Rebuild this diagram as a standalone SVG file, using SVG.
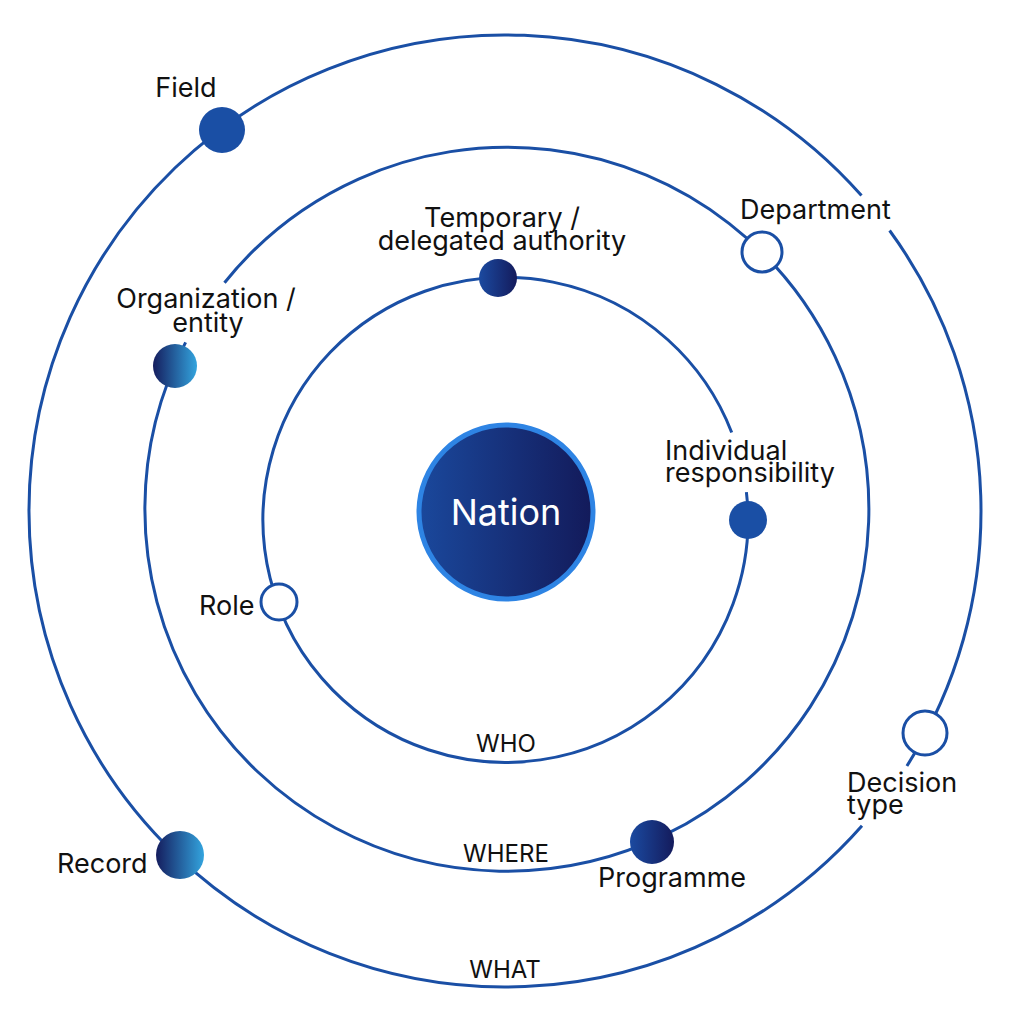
<svg xmlns="http://www.w3.org/2000/svg" width="1024" height="1024" viewBox="0 0 1024 1024">
<defs>
<linearGradient id="gBlueDark" x1="0" y1="0" x2="1" y2="0">
<stop offset="0" stop-color="#1b4aa0"/>
<stop offset="1" stop-color="#141b5c"/>
</linearGradient>
<linearGradient id="gDarkLight" x1="0" y1="0" x2="1" y2="0">
<stop offset="0" stop-color="#151d5e"/>
<stop offset="1" stop-color="#33a4de"/>
</linearGradient>
<linearGradient id="gNation" x1="0" y1="0" x2="1" y2="0">
<stop offset="0" stop-color="#1a489c"/>
<stop offset="1" stop-color="#131a5a"/>
</linearGradient>
<style>
.orbit{fill:none;stroke:#1a4fa5;stroke-width:3}
.open{fill:#fff;stroke:#1a4fa5;stroke-width:3}
.solid{fill:#1a4fa5}
.lbl{font-family:Inter,"Noto Sans","DejaVu Sans",sans-serif;font-size:27px;fill:#111}
.ring{font-family:Inter,"Noto Sans","DejaVu Sans",sans-serif;font-size:24px;fill:#111}
</style>
</defs>
<rect width="1024" height="1024" fill="#fff"/>
<g id="connectors">
<path class="orbit" d="M 889.6 230.5 A 476 476 0 0 1 906.9 766.0"/>
<path class="orbit" d="M 862.0 825.8 A 476 476 0 1 1 861.5 195.6"/>
<path class="orbit" d="M 224.5 282.7 A 362 362 0 1 1 185.6 342.4"/>
<path class="orbit" d="M 746.4 492.1 A 242.5 242.5 0 1 1 731.7 432.5"/>
</g>
<g id="ring-labels">
<text class="ring" x="506" y="752" text-anchor="middle">WHO</text>
<text class="ring" x="506" y="862" text-anchor="middle">WHERE</text>
<text class="ring" x="505" y="978" text-anchor="middle">WHAT</text>
</g>
<g id="nation">
<circle cx="506" cy="512" r="87" fill="url(#gNation)" stroke="#2e84e4" stroke-width="5"/>
<text x="506" y="525" text-anchor="middle" font-family="Inter,'Noto Sans','DejaVu Sans',sans-serif" font-size="36" fill="#fff">Nation</text>
</g>
<g id="field">
<circle class="solid" cx="222" cy="130" r="23"/>
<text class="lbl" x="186" y="97" text-anchor="middle">Field</text>
</g>
<g id="organization">
<circle cx="175" cy="366" r="22" fill="url(#gDarkLight)"/>
<text class="lbl" x="206" y="308" text-anchor="middle">Organization /</text>
<text class="lbl" x="208" y="332" text-anchor="middle">entity</text>
</g>
<g id="temporary">
<circle cx="498" cy="278" r="19" fill="url(#gBlueDark)"/>
<text class="lbl" x="502" y="227" text-anchor="middle">Temporary /</text>
<text class="lbl" x="502" y="250" text-anchor="middle">delegated authority</text>
</g>
<g id="department">
<circle class="open" cx="762" cy="252" r="20"/>
<text class="lbl" x="740" y="219">Department</text>
</g>
<g id="individual">
<circle class="solid" cx="748" cy="520" r="19"/>
<text class="lbl" x="665" y="460">Individual</text>
<text class="lbl" x="665" y="482">responsibility</text>
</g>
<g id="role">
<circle class="open" cx="279" cy="602" r="18"/>
<text class="lbl" x="199" y="615">Role</text>
</g>
<g id="decision">
<circle class="open" cx="925" cy="733" r="22"/>
<text class="lbl" x="847" y="792">Decision</text>
<text class="lbl" x="847" y="814">type</text>
</g>
<g id="programme">
<circle cx="652" cy="842" r="22" fill="url(#gBlueDark)"/>
<text class="lbl" x="598" y="887">Programme</text>
</g>
<g id="record">
<circle cx="180" cy="855" r="24" fill="url(#gDarkLight)"/>
<text class="lbl" x="57" y="873">Record</text>
</g>
</svg>
